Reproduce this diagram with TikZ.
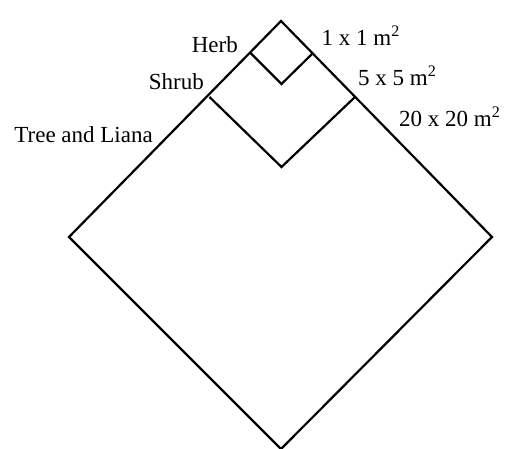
\documentclass[tikz,border=0pt]{standalone}
\usepackage{fontspec}
\setmainfont{Liberation Serif}
\begin{document}
\begin{tikzpicture}[x=1pt,y=-1pt,
  sq/.style={line width=2.2pt,line join=miter},
  lbl/.style={inner sep=0pt,font=\fontsize{23}{27}\selectfont}]
\useasboundingbox (0,0) rectangle (506,449);
% corners
\coordinate (T) at (281,21);
\coordinate (Bl) at (69,237);
\coordinate (Br) at (492,237);
\coordinate (Bb) at (281,449);
\coordinate (Ml) at (209.5,97);
\coordinate (Mb) at (281.5,167);
\coordinate (Mr) at (355,97);
\coordinate (Sl) at (250.5,53);
\coordinate (Sb) at (281.5,84);
\coordinate (Sr) at (312,54);
\draw[sq] (T) -- (Bl) -- (Bb) -- (Br) -- cycle;
\draw[sq] (Ml) -- (Mb) -- (Mr);
\draw[sq] (Sl) -- (Sb) -- (Sr);
% labels
\node[lbl,anchor=base east] (herb) at (238,53) {Herb};
\node[lbl,anchor=base east] (shrub) at (204,89.5) {Shrub};
\node[lbl,anchor=base east] (tree) at (153,143) {Tree and Liana};
\node[lbl,anchor=base west] (a1) at (321.5,46) {1 x 1 m\textsuperscript{2}};
\node[lbl,anchor=base west] (a5) at (358,86) {5 x 5 m\textsuperscript{2}};
\node[lbl,anchor=base west] (a20) at (399,126.5) {20 x 20 m\textsuperscript{2}};
\end{tikzpicture}
\end{document}
